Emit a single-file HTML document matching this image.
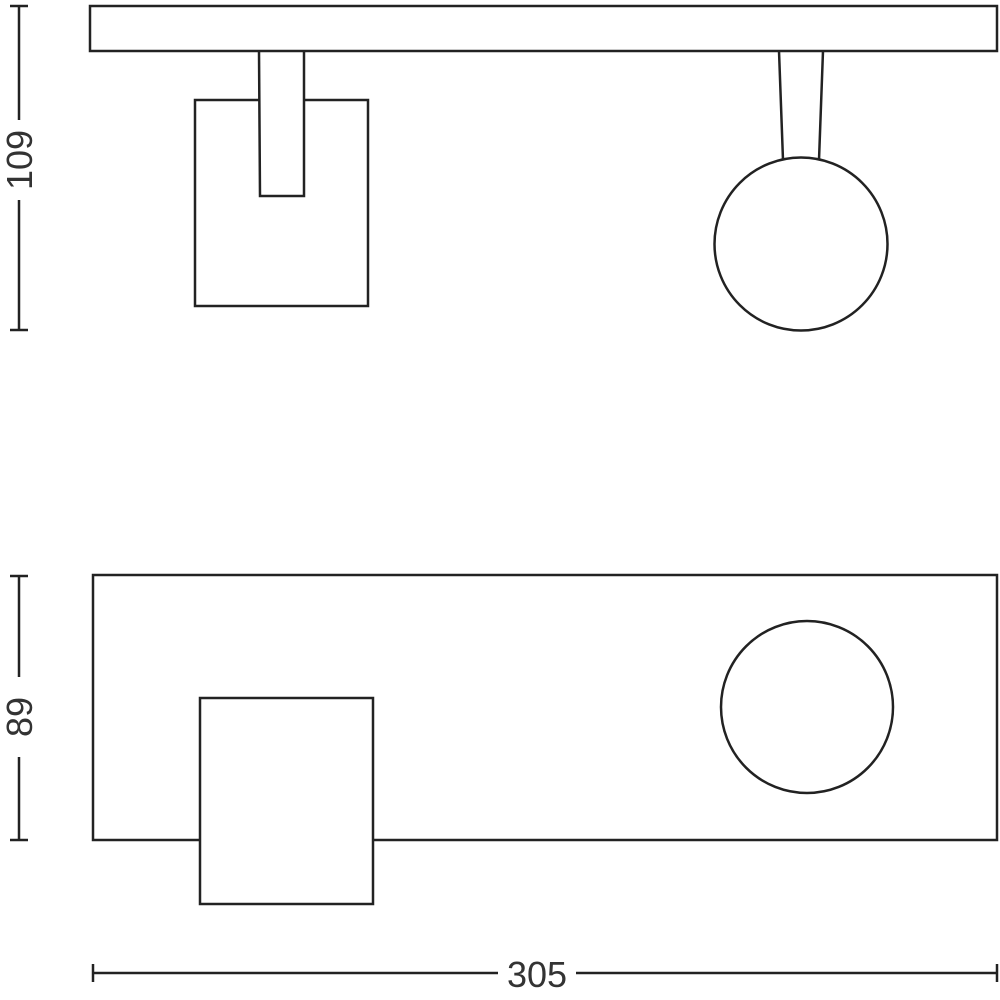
<!DOCTYPE html>
<html><head><style>body{margin:0;background:#fff}svg{display:block}</style></head><body>
<svg width="1000" height="1000" viewBox="0 0 1000 1000" xmlns="http://www.w3.org/2000/svg">
<g fill="none" stroke="#222" stroke-width="2.5">
<rect x="90" y="6" width="907" height="45"/>
<path d="M259 51 L260 196 L304 196 L304 51"/>
<path d="M259 100 L195 100 L195 306 L368 306 L368 100 L304 100"/>
<path d="M779 51 L783 160 M823 51 L819 160"/>
<circle cx="801" cy="244" r="86.5"/>
<rect x="93" y="575" width="904" height="265"/>
<rect x="200" y="698" width="173" height="206" fill="#fff"/>
<circle cx="807" cy="707" r="86"/>
<path d="M19 6 V120 M19 200 V330 M10 6 H28 M10 330 H28"/>
<path d="M19 576 V677 M19 757 V840 M10 576 H28 M10 840 H28"/>
<path d="M93 973 H498 M576 973 H997 M93 964 V982 M997 964 V982"/>
</g>
<g font-family="Liberation Sans, sans-serif" font-size="36" fill="#333" text-anchor="middle">
<text transform="translate(32,160) rotate(-90)">109</text>
<text transform="translate(32,717) rotate(-90)">89</text>
<text x="537" y="987">305</text>
</g>
</svg>
</body></html>
